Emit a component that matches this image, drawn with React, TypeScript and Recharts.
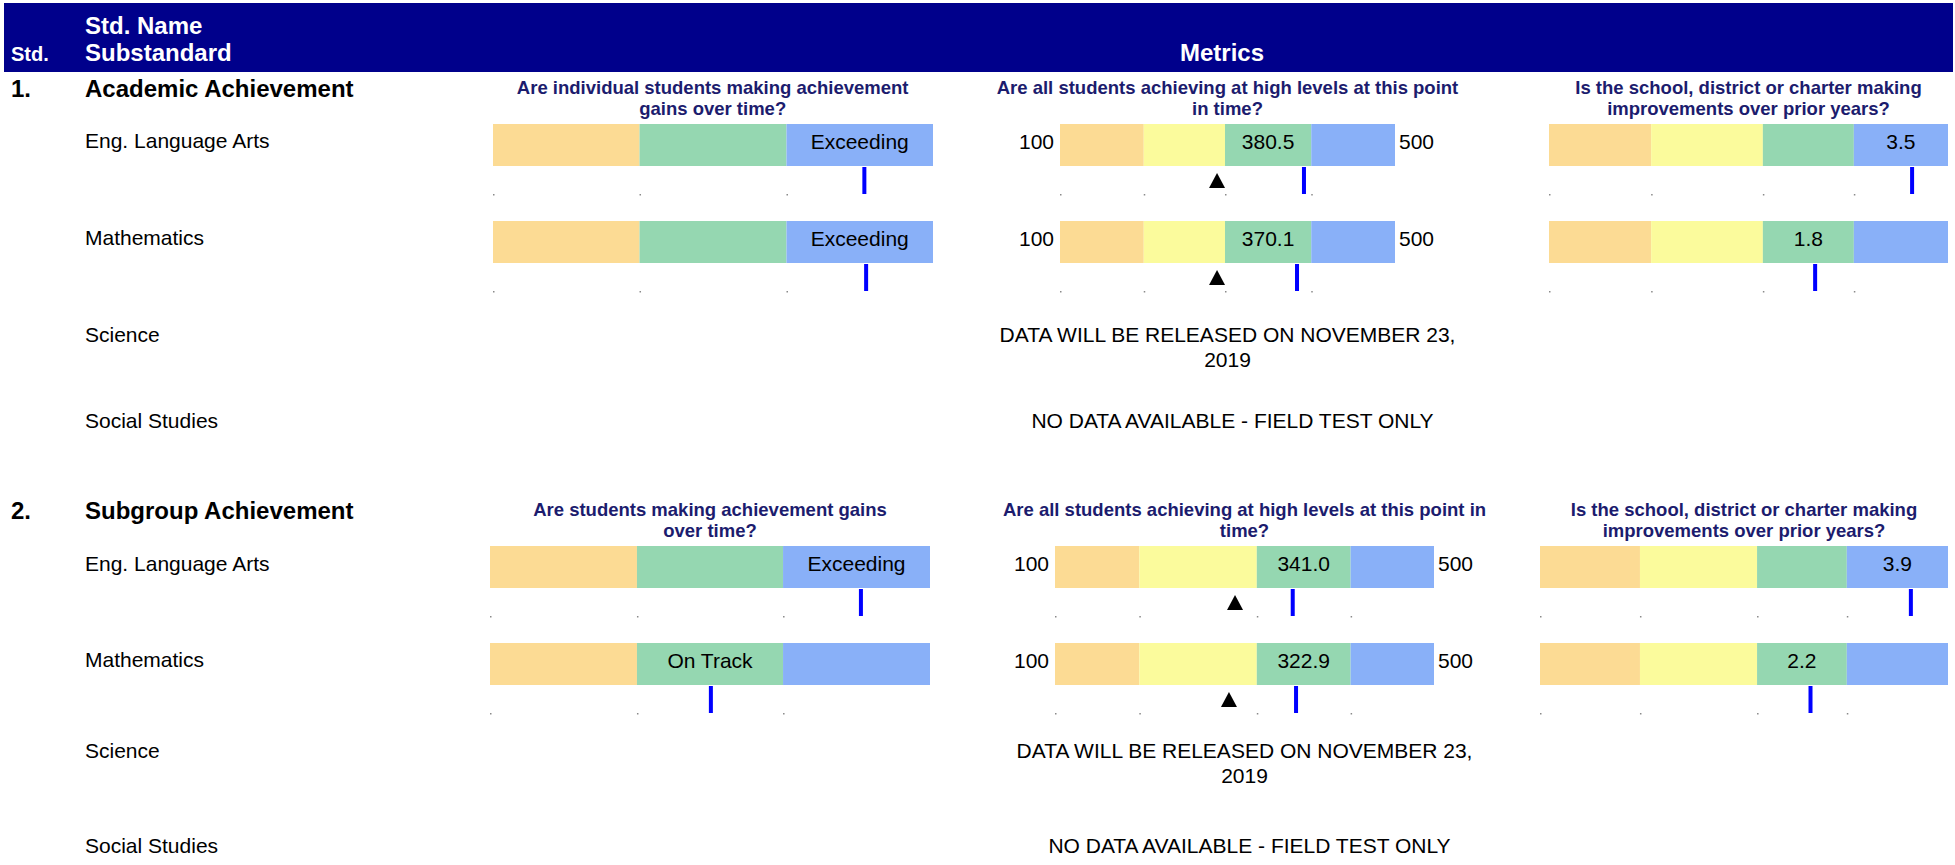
import React from 'react';
import { ScatterChart, Scatter, XAxis, YAxis, ReferenceArea } from 'recharts';

document.body.style.margin = '0';

const FONT = '"Liberation Sans", Arial, Helvetica, sans-serif';
const NAVY = '#00008b';
const TITLE = '#1c1c6e';
const ORANGE = '#fcdb94';
const YELLOW = '#fbfb9c';
const GREEN = '#95d7b1';
const BLUE = '#89b0f8';

const sectionNumbers = ['1.', '2.'];
const sectionNames = ['Academic Achievement', 'Subgroup Achievement'];
const subjects = ['Eng. Language Arts', 'Mathematics', 'Science', 'Social Studies'];

const growthQuestions = [
  ['Are individual students making achievement', 'gains over time?'],
  ['Are students making achievement gains', 'over time?'],
];
const statusQuestions = [
  ['Are all students achieving at high levels at this point', 'in time?'],
  ['Are all students achieving at high levels at this point in', 'time?'],
];
const improvementQuestions = [
  ['Is the school, district or charter making', 'improvements over prior years?'],
  ['Is the school, district or charter making', 'improvements over prior years?'],
];

// growth percentile bands
const growthColors = [ORANGE, GREEN, BLUE];
const growthBounds = [
  [0, 33.3, 66.7, 100],
  [0, 33.4, 66.6, 100],
];
const growthLabels = [['Exceeding', 'Exceeding'], ['Exceeding', 'On Track']];
const growthMarker = [[84.4, 84.8], [84.3, 50.2]];

// scale score 100..500
const statusColors = [ORANGE, YELLOW, GREEN, BLUE];
const statusBounds = [
  [100, 200, 297, 400, 500],
  [100, 189, 313, 412, 500],
];
const statusScores = [['380.5', '370.1'], ['341.0', '322.9']];
const statusMarker = [[391.3, 383.0], [350.9, 354.4]];
const statusTriangle = [[287.5, 287.5], [290.0, 283.6]];
const statusMin = '100';
const statusMax = '500';

// improvement index bands
const improvementColors = [ORANGE, YELLOW, GREEN, BLUE];
const improvementBounds = [
  [0, 25.6, 53.6, 76.4, 100],
  [0, 24.5, 53.2, 75.2, 100],
];
const improvementValues = [['3.5', '1.8'], ['3.9', '2.2']];
const improvementMarker = [[91.0, 66.7], [90.9, 66.3]];

const scienceNote = ['DATA WILL BE RELEASED ON NOVEMBER 23,', '2019'];
const socialNote = 'NO DATA AVAILABLE - FIELD TEST ONLY';

// page layout per section (pixels)
const layout = [
  {
    head: 97, titles: [94, 115], bars: [124, 221], rows: [147.7, 244.7, 342, 427.5],
    growth: [492.7, 440], status: [1060, 335], improvement: [1549, 399],
  },
  {
    head: 519.3, titles: [516, 537], bars: [546, 643], rows: [570.7, 667.3, 758, 853],
    growth: [490, 440], status: [1055, 379], improvement: [1540, 408],
  },
];

const H = 74;
const BAR_H = 42;

const TickDot = (p: any) => <rect x={p.cx} y={p.cy} width={1.5} height={1.5} fill="#8a8a8a" />;
const MarkerLine = (p: any) => <rect x={p.cx - 2} y={p.cy} width={4} height={27} fill="#0000ff" />;
const TriangleMark = (p: any) => (
  <path d={`M${p.cx},${p.cy} L${p.cx + 8},${p.cy + 15} L${p.cx - 8},${p.cy + 15} Z`} fill="#000" />
);

interface GaugeProps {
  left: number;
  top: number;
  width: number;
  bounds: number[];
  colors: string[];
  marker: number;
  label: string;
  triangle?: number;
}

function Gauge({ left, top, width, bounds, colors, marker, label, triangle }: GaugeProps) {
  const bands = colors.map((c, i) => ({ x1: bounds[i], x2: bounds[i + 1], fill: c }));
  const active = bands.findIndex((b) => marker >= b.x1 && marker < b.x2);
  const dots = bounds.slice(0, -1).map((b) => ({ x: b, y: 70 }));
  return (
    <div style={{ position: 'absolute', left, top, width, height: H }}>
      <ScatterChart width={width} height={H} margin={{ top: 0, right: 0, bottom: 0, left: 0 }}>
        <XAxis type="number" dataKey="x" domain={[bounds[0], bounds[bounds.length - 1]]} hide allowDataOverflow />
        <YAxis type="number" dataKey="y" domain={[0, H]} reversed hide allowDataOverflow />
        {bands.map((b, i) => (
          <ReferenceArea
            key={i}
            x1={b.x1}
            x2={b.x2}
            y1={0}
            y2={BAR_H}
            fill={b.fill}
            fillOpacity={1}
            stroke="none"
            ifOverflow="visible"
            label={
              i === active
                ? (lp: any) => {
                    const vb = lp.viewBox;
                    return (
                      <text
                        x={vb.x + vb.width / 2}
                        y={vb.y + vb.height / 2 + 3.5}
                        textAnchor="middle"
                        fontFamily={FONT}
                        fontSize={21}
                        fill="#000"
                      >
                        {label}
                      </text>
                    );
                  }
                : undefined
            }
          />
        ))}
        <Scatter data={dots} shape={TickDot} isAnimationActive={false} />
        <Scatter data={[{ x: marker, y: BAR_H + 1 }]} shape={MarkerLine} isAnimationActive={false} />
        {triangle !== undefined && (
          <Scatter data={[{ x: triangle, y: 49 }]} shape={TriangleMark} isAnimationActive={false} />
        )}
      </ScatterChart>
    </div>
  );
}

export default function App() {
  return (
    <div style={{ position: 'relative', width: 1955, height: 865, overflow: 'hidden', background: '#fff', fontFamily: FONT }}>
      <svg width={1955} height={865} style={{ position: 'absolute', left: 0, top: 0 }} fontFamily={FONT}>
        <rect x={4} y={3} width={1949} height={69} fill={NAVY} />
        <text x={11} y={61} fill="#fff" fontWeight="bold" fontSize={20}>Std.</text>
        <text x={85} y={34} fill="#fff" fontWeight="bold" fontSize={24}>Std. Name</text>
        <text x={85} y={61} fill="#fff" fontWeight="bold" fontSize={24}>Substandard</text>
        <text x={1222} y={61} fill="#fff" fontWeight="bold" fontSize={24} textAnchor="middle">Metrics</text>

        {layout.map((L, s) => {
          const gC = L.growth[0] + L.growth[1] / 2;
          const sC = L.status[0] + L.status[1] / 2;
          const iC = L.improvement[0] + L.improvement[1] / 2;
          return (
            <g key={s}>
              <text x={11} y={L.head} fontWeight="bold" fontSize={24} fill="#000">{sectionNumbers[s]}</text>
              <text x={85} y={L.head} fontWeight="bold" fontSize={24} fill="#000">{sectionNames[s]}</text>
              {subjects.map((sub, r) => (
                <text key={sub} x={85} y={L.rows[r]} fontSize={21} fill="#000">{sub}</text>
              ))}
              {[0, 1].map((ln) => (
                <g key={ln} fontWeight="bold" fontSize={18.5} fill={TITLE} textAnchor="middle">
                  <text x={gC} y={L.titles[ln]}>{growthQuestions[s][ln]}</text>
                  <text x={sC} y={L.titles[ln]}>{statusQuestions[s][ln]}</text>
                  <text x={iC} y={L.titles[ln]}>{improvementQuestions[s][ln]}</text>
                </g>
              ))}
              {L.bars.map((bt, r) => (
                <g key={r} fontSize={21} fill="#000">
                  <text x={L.status[0] - 6} y={bt + 24.5} textAnchor="end">{statusMin}</text>
                  <text x={L.status[0] + L.status[1] + 4} y={bt + 24.5}>{statusMax}</text>
                </g>
              ))}
              <text x={sC} y={L.rows[2]} fontSize={21} fill="#000" textAnchor="middle">{scienceNote[0]}</text>
              <text x={sC} y={L.rows[2] + 25} fontSize={21} fill="#000" textAnchor="middle">{scienceNote[1]}</text>
              <text x={sC + 5} y={L.rows[3]} fontSize={21} fill="#000" textAnchor="middle">{socialNote}</text>
            </g>
          );
        })}
      </svg>

      {layout.map((L, s) =>
        L.bars.map((bt, r) => (
          <React.Fragment key={`${s}-${r}`}>
            <Gauge
              left={L.growth[0]}
              top={bt}
              width={L.growth[1]}
              bounds={growthBounds[s]}
              colors={growthColors}
              marker={growthMarker[s][r]}
              label={growthLabels[s][r]}
            />
            <Gauge
              left={L.status[0]}
              top={bt}
              width={L.status[1]}
              bounds={statusBounds[s]}
              colors={statusColors}
              marker={statusMarker[s][r]}
              label={statusScores[s][r]}
              triangle={statusTriangle[s][r]}
            />
            <Gauge
              left={L.improvement[0]}
              top={bt}
              width={L.improvement[1]}
              bounds={improvementBounds[s]}
              colors={improvementColors}
              marker={improvementMarker[s][r]}
              label={improvementValues[s][r]}
            />
          </React.Fragment>
        ))
      )}
    </div>
  );
}
